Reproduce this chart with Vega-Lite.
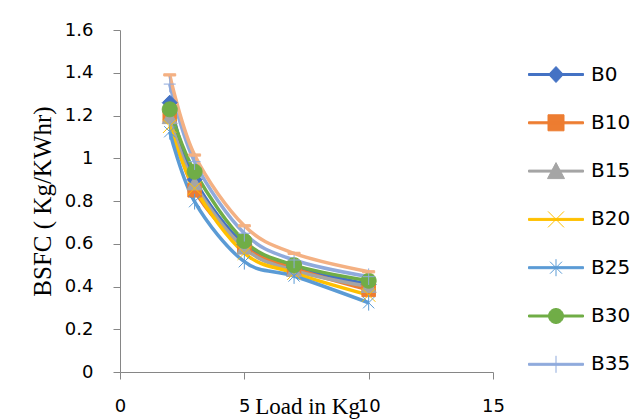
{
  "$schema": "https://vega.github.io/schema/vega-lite/v6.json",
  "width": 373,
  "height": 342,
  "autosize": {"type": "none"},
  "padding": {"left": 120, "top": 30, "right": 151, "bottom": 47},
  "background": "white",
  "config": {
    "view": {"stroke": null},
    "axis": {
      "grid": false,
      "domainColor": "#868686",
      "tickColor": "#868686",
      "tickSize": 7,
      "labelColor": "#000000",
      "labelFont": "DejaVu Sans",
      "labelFontSize": 18,
      "titleColor": "#000000",
      "titleFont": "Liberation Serif",
      "titleFontWeight": "normal"
    }
  },
  "data": {
    "values": [
      {"series": "B0", "load": 2, "bsfc": 1.26},
      {"series": "B0", "load": 3, "bsfc": 0.9},
      {"series": "B0", "load": 5, "bsfc": 0.595},
      {"series": "B0", "load": 7, "bsfc": 0.49},
      {"series": "B0", "load": 10, "bsfc": 0.41},
      {"series": "B10", "load": 2, "bsfc": 1.2},
      {"series": "B10", "load": 3, "bsfc": 0.85},
      {"series": "B10", "load": 5, "bsfc": 0.585},
      {"series": "B10", "load": 7, "bsfc": 0.485},
      {"series": "B10", "load": 10, "bsfc": 0.384},
      {"series": "B15", "load": 2, "bsfc": 1.19},
      {"series": "B15", "load": 3, "bsfc": 0.88},
      {"series": "B15", "load": 5, "bsfc": 0.58},
      {"series": "B15", "load": 7, "bsfc": 0.475},
      {"series": "B15", "load": 10, "bsfc": 0.4},
      {"series": "B20", "load": 2, "bsfc": 1.15},
      {"series": "B20", "load": 3, "bsfc": 0.86},
      {"series": "B20", "load": 5, "bsfc": 0.556},
      {"series": "B20", "load": 7, "bsfc": 0.463},
      {"series": "B20", "load": 10, "bsfc": 0.36},
      {"series": "B25", "load": 2, "bsfc": 1.124},
      {"series": "B25", "load": 3, "bsfc": 0.797},
      {"series": "B25", "load": 5, "bsfc": 0.516},
      {"series": "B25", "load": 7, "bsfc": 0.449},
      {"series": "B25", "load": 10, "bsfc": 0.324},
      {"series": "B30", "load": 2, "bsfc": 1.229},
      {"series": "B30", "load": 3, "bsfc": 0.937},
      {"series": "B30", "load": 5, "bsfc": 0.613},
      {"series": "B30", "load": 7, "bsfc": 0.5},
      {"series": "B30", "load": 10, "bsfc": 0.427},
      {"series": "B35", "load": 2, "bsfc": 1.347},
      {"series": "B35", "load": 3, "bsfc": 0.984},
      {"series": "B35", "load": 5, "bsfc": 0.649},
      {"series": "B35", "load": 7, "bsfc": 0.524},
      {"series": "B35", "load": 10, "bsfc": 0.446},
      {"series": "B40", "load": 2, "bsfc": 1.39},
      {"series": "B40", "load": 3, "bsfc": 1.015},
      {"series": "B40", "load": 5, "bsfc": 0.684},
      {"series": "B40", "load": 7, "bsfc": 0.555},
      {"series": "B40", "load": 10, "bsfc": 0.469}
    ]
  },
  "encoding": {
    "x": {
      "field": "load",
      "type": "quantitative",
      "scale": {"domain": [0, 15], "nice": false},
      "axis": {
        "values": [0, 5, 10, 15],
        "title": "Load in Kg",
        "titleFontSize": 23,
        "titleBaseline": "alphabetic",
        "titleX": 187,
        "titleY": 41,
        "labelPadding": 18,
        "labelFlush": false
      }
    },
    "y": {
      "field": "bsfc",
      "type": "quantitative",
      "scale": {"domain": [0, 1.6], "nice": false},
      "axis": {
        "values": [0, 0.2, 0.4, 0.6, 0.8, 1, 1.2, 1.4, 1.6],
        "format": "~g",
        "title": "BSFC ( Kg/KWhr)",
        "titleFontSize": 25,
        "titleAngle": 270,
        "titleBaseline": "middle",
        "titleAlign": "center",
        "titleX": -78,
        "titleY": 171,
        "labelPadding": 20,
        "labelFlush": false
      }
    }
  },
  "layer": [
    {
      "mark": {"type": "line", "interpolate": "cardinal", "strokeWidth": 3.5},
      "encoding": {
        "color": {
          "field": "series",
          "type": "nominal",
          "scale": {
            "domain": ["B0", "B10", "B15", "B20", "B25", "B30", "B35", "B40"],
            "range": ["#4472C4", "#ED7D31", "#A5A5A5", "#FFC000", "#5B9BD5", "#70AD47", "#8FAADC", "#F4B183"]
          },
          "legend": {
            "values": ["B0", "B10", "B15", "B20", "B25", "B30", "B35"],
            "orient": "none",
            "legendX": 425.5,
            "legendY": 34,
            "title": null,
            "padding": 0,
            "symbolSize": 400,
            "labelOffset": 24.5,
            "labelFont": "DejaVu Sans",
            "labelFontSize": 20,
            "labelColor": "#000000",
            "rowPadding": 27.3,
            "encode": {
              "symbols": {
                "update": {
                  "shape": {"signal": "datum.value == 'B0' ? 'M-2.75,-0.1H2.75V0.1H-2.75ZM0,-0.8L0.75,0L0,0.8L-0.75,0Z' : datum.value == 'B10' ? 'M-2.75,-0.1H2.75V0.1H-2.75ZM-0.8,-0.8H0.8V0.8H-0.8Z' : datum.value == 'B15' ? 'M-2.75,-0.1H2.75V0.1H-2.75ZM0,-0.85L0.85,0.75H-0.85Z' : datum.value == 'B20' ? 'M-2.75,-0.1H2.75V0.1H-2.75ZM-0.8,-0.8L0.8,0.8M-0.8,0.8L0.8,-0.8' : datum.value == 'B25' ? 'M-2.75,-0.1H2.75V0.1H-2.75ZM-0.6,-0.6L0.6,0.6M-0.6,0.6L0.6,-0.6M0,-0.85V0.85' : datum.value == 'B30' ? 'M-2.75,-0.1H2.75V0.1H-2.75ZM0.75,0A0.75,0.75 0 1,1 -0.75,0A0.75,0.75 0 1,1 0.75,0Z' : 'M-2.75,-0.1H2.75V0.1H-2.75ZM0,-0.85V0.85'"},
                  "fill": {"signal": "scale('color', datum.value)"},
                  "stroke": {"signal": "scale('color', datum.value)"},
                  "strokeWidth": {"value": 1},
                  "size": {"value": 400},
                  "opacity": {"value": 1}
                }
              }
            }
          }
        }
      }
    },
    {
      "transform": [{"filter": "datum.series == 'B0'"}],
      "mark": {"type": "point", "shape": "M0,-1L1,0L0,1L-1,0Z", "filled": true, "color": "#4472C4", "stroke": "#4472C4", "strokeWidth": 1, "size": 225, "opacity": 1}
    },
    {
      "transform": [{"filter": "datum.series == 'B10'"}],
      "mark": {"type": "point", "shape": "M-0.9,-0.9H0.9V0.9H-0.9Z", "filled": true, "color": "#ED7D31", "stroke": "#ED7D31", "strokeWidth": 1, "size": 225, "opacity": 1}
    },
    {
      "transform": [{"filter": "datum.series == 'B15'"}],
      "mark": {"type": "point", "shape": "M0,-1L1,0.8H-1Z", "filled": true, "color": "#A5A5A5", "stroke": "#A5A5A5", "strokeWidth": 1, "size": 225, "opacity": 1}
    },
    {
      "transform": [{"filter": "datum.series == 'B20'"}],
      "mark": {"type": "point", "shape": "M-0.9,-0.9L0.9,0.9M-0.9,0.9L0.9,-0.9", "filled": true, "color": "#FFC000", "stroke": "#FFC000", "strokeWidth": 1, "size": 225, "opacity": 1}
    },
    {
      "transform": [{"filter": "datum.series == 'B25'"}],
      "mark": {"type": "point", "shape": "M-0.75,-0.75L0.75,0.75M-0.75,0.75L0.75,-0.75M0,-1.05V1.05", "filled": true, "color": "#5B9BD5", "stroke": "#5B9BD5", "strokeWidth": 1, "size": 225, "opacity": 1}
    },
    {
      "transform": [{"filter": "datum.series == 'B30'"}],
      "mark": {"type": "point", "shape": "M1,0A1,1 0 1,1 -1,0A1,1 0 1,1 1,0Z", "filled": true, "color": "#70AD47", "stroke": "#70AD47", "strokeWidth": 1, "size": 225, "opacity": 1}
    },
    {
      "transform": [{"filter": "datum.series == 'B35'"}],
      "mark": {"type": "point", "shape": "M-0.8,0H0.8M0,-1.1V1.1", "filled": true, "color": "#8FAADC", "stroke": "#8FAADC", "strokeWidth": 1, "size": 225, "opacity": 1}
    },
    {
      "transform": [{"filter": "datum.series == 'B40'"}],
      "mark": {"type": "point", "shape": "M-0.8,-0.15H0.8V0.15H-0.8Z", "filled": true, "color": "#F4B183", "stroke": "#F4B183", "strokeWidth": 1, "size": 225, "opacity": 1}
    }
  ]
}
